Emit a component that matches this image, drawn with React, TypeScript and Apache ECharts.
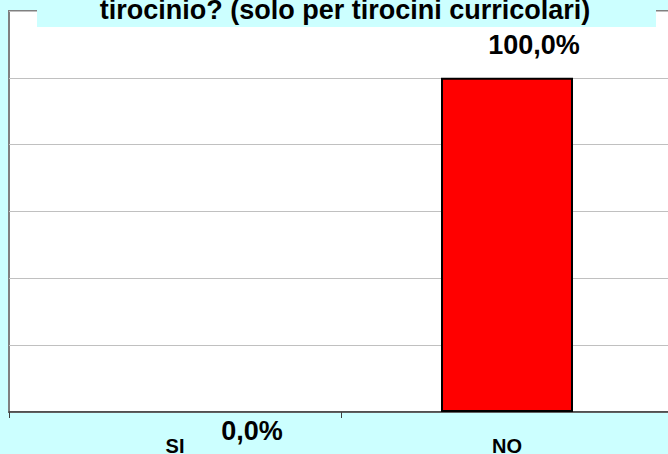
import React, { useEffect, useRef } from "react";
import * as echarts from "echarts";

const titleText = "tirocinio? (solo per tirocini curricolari)";
const categories = ["SI", "NO"];
const values = [0, 100];
const labelOffsets: [number, number][] = [
  [77, 37],
  [27, -14],
];
const yMin = 0;
const yMax = 120;
const yInterval = 20;

const FONT = "'Liberation Sans', Arial, sans-serif";

const fmt = (v: number) => v.toFixed(1).replace(".", ",") + "%";

export default function App() {
  const ref = useRef<HTMLDivElement>(null);
  useEffect(() => {
    document.body.style.margin = "0";
    const chart = echarts.init(ref.current!, null, { renderer: "svg" });
    chart.setOption({
      animation: false,
      backgroundColor: "#ccffff",
      grid: {
        show: true,
        left: 9,
        top: 11,
        width: 664,
        height: 401,
        containLabel: false,
        outerBoundsMode: "none",
        backgroundColor: "#ffffff",
        borderColor: "#808080",
        borderWidth: 2,
      },
      xAxis: {
        type: "category",
        data: categories,
        axisLine: { show: true, lineStyle: { color: "#404040", width: 1.5 } },
        axisTick: { show: true, length: 6, interval: 0, lineStyle: { color: "#404040" } },
        axisLabel: {
          color: "#000",
          fontFamily: FONT,
          fontWeight: "bold",
          fontSize: 20,
          margin: 24,
        },
      },
      yAxis: {
        type: "value",
        min: yMin,
        max: yMax,
        interval: yInterval,
        axisLabel: { show: false },
        axisLine: { show: false },
        axisTick: { show: false },
        splitLine: { lineStyle: { color: "#c0c0c0", width: 1 } },
      },
      series: [
        {
          type: "bar",
          barWidth: 132,
          data: values.map((v, i) => ({
            value: v,
            label: { offset: labelOffsets[i] },
            itemStyle: v === 0 ? { borderWidth: 0 } : undefined,
          })),
          itemStyle: { color: "#ff0000", borderColor: "#000", borderWidth: 2 },
          label: {
            show: true,
            position: "top",
            formatter: (p: any) => fmt(p.value),
            color: "#000",
            fontFamily: FONT,
            fontWeight: "bold",
            fontSize: 27,
          },
        },
      ],
      graphic: [
        {
          type: "rect",
          z: 100,
          shape: { x: 37, y: 0, width: 619, height: 27 },
          style: { fill: "#ccffff" },
        },
        {
          type: "text",
          z: 101,
          x: 345,
          y: 10,
          style: {
            text: titleText,
            fill: "#000",
            font: `bold 27px ${FONT}`,
            textAlign: "center",
            textVerticalAlign: "middle",
          },
        },
      ],
    });
    return () => chart.dispose();
  }, []);
  return (
    <div
      ref={ref}
      style={{ position: "absolute", left: 0, top: 0, width: 668, height: 454 }}
    />
  );
}
